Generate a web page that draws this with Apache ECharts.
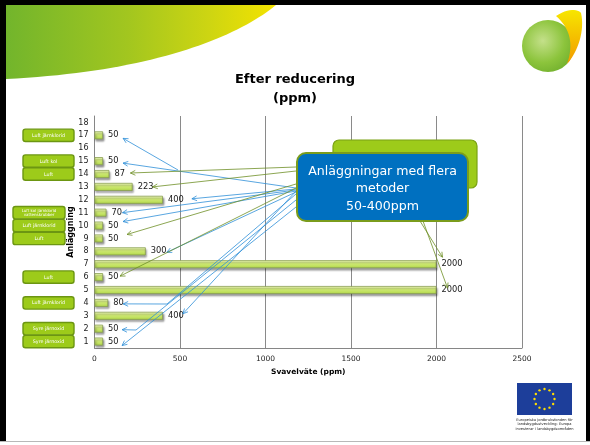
<!DOCTYPE html>
<html>
<head>
<meta charset="utf-8">
<script src="https://cdn.jsdelivr.net/npm/echarts@6/dist/echarts.min.js"></script>
<style>
  html, body { margin: 0; padding: 0; background: #fff; }
  #chart { width: 590px; height: 445px; }
</style>
</head>
<body>
<div id="chart"></div>
<script>
// Plant numbers on the category axis (bottom to top)
const plants = ['1','2','3','4','5','6','7','8','9','10','11','12','13','14','15','16','17','18'];
// Hydrogen sulphide after reduction, ppm (null = no value reported)
const ppm = [50, 50, 400, 80, 2000, 50, 2000, 300, 50, 50, 70, 400, 223, 87, 50, null, 50, null];

// Value axis range
const xMin = 0, xMax = 2500, xStep = 500;

// Treatment method tags shown beside the plant numbers
const methodPlants = ['17', '15', '14', '11', '10', '9', '6', '4', '2', '1'];
const methodNames = ['Luft järnklorid', 'Luft kol', 'Luft', 'Luft kol järnklorid\nvattenskrubber',
                     'Luft järnklorid', 'Luft', 'Luft', 'Luft järnklorid', 'Syre järnoxid', 'Syre järnoxid'];

// Callout text and the plants its arrows point at
const calloutText = 'Anläggningar med flera\nmetoder\n50-400ppm';
const bluePointerPlants = ['17', '15', '12', '11', '10', '8', '4', '3', '2', '1'];
const greenPointerPlants = ['14', '13', '9', '6', '7', '5'];

const euText = ['Europeiska jordbruksfonden för', 'landsbygdsutveckling: Europa', 'investerar i landsbygdsområden'];

const FONT = 'DejaVu Sans';

// Per-arrow drawing layout: start point and offset of the tip from the bar end
const arrowLayout = {
  '17': { from: [178, 170], dx: 20, dy: 3 },
  '15': { from: [296, 188], dx: 20, dy: 2 },
  '12': { from: [296, 189], dx: 29, dy: -1 },
  '11': { from: [296, 190], dx: 16, dy: 0 },
  '10': { from: [296, 191], dx: 20, dy: -4 },
  '8':  { from: [296, 192], dx: 21, dy: 1 },
  '4':  { from: [167, 304], dx: 15, dy: 1, feed: [296, 194] },
  '3':  { from: [297, 190], dx: 20, dy: -2 },
  '2':  { from: [136, 330], dx: 19, dy: 1, feed: [296, 200] },
  '1':  { from: [296, 207], dx: 19, dy: 4 },
  '14': { from: [296, 167], dx: 21, dy: -1 },
  '13': { from: [296, 171], dx: 20, dy: 0 },
  '9':  { from: [296, 184], dx: 24, dy: -4 },
  '6':  { from: [296, 188], dx: 17, dy: -1 },
  '7':  { from: [420, 221], dx: 6, dy: -7 },
  '5':  { from: [423, 221], dx: 11, dy: -2 }
};

const chart = echarts.init(document.getElementById('chart'), null, { renderer: 'canvas' });

const barFill = {
  type: 'linear', x: 0, y: 0, x2: 0, y2: 1,
  colorStops: [
    { offset: 0, color: '#f2fbc4' },
    { offset: 0.4, color: '#d6f07a' },
    { offset: 1, color: '#add346' }
  ]
};

chart.setOption({
  animation: false,
  backgroundColor: '#fff',
  title: {
    text: 'Efter reducering\n(ppm)',
    left: 'center',
    top: 65,
    textStyle: { fontFamily: FONT, fontWeight: 'bold', fontSize: 13, lineHeight: 19, color: '#000' }
  },
  grid: { left: 94.5, right: 68, top: 116, bottom: 97, containLabel: false },
  xAxis: {
    type: 'value',
    min: xMin, max: xMax, interval: xStep,
    name: 'Svavelväte (ppm)',
    nameLocation: 'middle',
    nameGap: 20,
    nameTextStyle: { fontFamily: FONT, fontWeight: 'bold', fontSize: 7.5, color: '#000' },
    axisLine: { show: true, lineStyle: { color: '#868686', width: 1 } },
    axisTick: { show: false },
    axisLabel: { fontFamily: FONT, fontSize: 7.5, color: '#222', margin: 7, formatter: v => String(v) },
    splitLine: { show: true, lineStyle: { color: '#8a8a8a', width: 1 } }
  },
  yAxis: {
    type: 'category',
    data: plants,
    name: 'Anläggning',
    nameLocation: 'middle',
    nameGap: 20,
    nameMoveOverlap: false,
    nameTextStyle: { fontFamily: FONT, fontWeight: 'bold', fontSize: 8, color: '#000' },
    axisLine: { show: true, lineStyle: { color: '#868686', width: 1 } },
    axisTick: { show: false },
    axisLabel: { fontFamily: FONT, fontSize: 8, color: '#222', margin: 6 },
    splitLine: { show: false }
  },
  series: [{
    type: 'bar',
    data: ppm,
    barWidth: 8,
    itemStyle: {
      color: barFill,
      borderColor: '#8a9f52',
      borderWidth: 0.8,
      shadowColor: 'rgba(0,0,0,0.4)',
      shadowBlur: 2,
      shadowOffsetX: 1,
      shadowOffsetY: 2
    },
    label: {
      show: true,
      position: 'right',
      distance: 5,
      fontFamily: FONT,
      fontSize: 8.3,
      color: '#1a1a1a',
      formatter: p => (p.value == null ? '' : String(p.value))
    }
  }]
});

// ---- decorations and annotations placed from the chart's own scales ----
const px = (v, cat) => chart.convertToPixel({ gridIndex: 0 }, [v, cat]);
const valueOf = cat => ppm[plants.indexOf(cat)];

// sample a cubic Bézier into points
function cubic(p0, p1, p2, p3, n) {
  const pts = [];
  for (let i = 0; i <= n; i++) {
    const t = i / n, u = 1 - t;
    pts.push([
      u * u * u * p0[0] + 3 * u * u * t * p1[0] + 3 * u * t * t * p2[0] + t * t * t * p3[0],
      u * u * u * p0[1] + 3 * u * u * t * p1[1] + 3 * u * t * t * p2[1] + t * t * t * p3[1]
    ]);
  }
  return pts;
}

const gfx = [];

// slide frame
gfx.push({ type: 'rect', z: 1, shape: { x: 0, y: 0, width: 590, height: 5 }, style: { fill: '#000' } });
gfx.push({ type: 'rect', z: 1, shape: { x: 0, y: 0, width: 6, height: 441 }, style: { fill: '#000' } });
gfx.push({ type: 'rect', z: 1, shape: { x: 586, y: 0, width: 4, height: 441 }, style: { fill: '#000' } });
gfx.push({ type: 'line', z: 1, shape: { x1: 0, y1: 441.5, x2: 590, y2: 441.5 }, style: { stroke: '#b8b8b8', lineWidth: 1 } });

// header swoosh
const swoosh = [[6, 5], [276, 5]].concat(cubic([276, 5], [236, 38], [150, 72], [6, 79], 40));
gfx.push({
  type: 'polygon', z: 1,
  shape: { points: swoosh },
  style: {
    fill: {
      type: 'linear', x: 0, y: 0, x2: 1, y2: 0,
      colorStops: [
        { offset: 0, color: '#72b52c' },
        { offset: 0.45, color: '#a2c61f' },
        { offset: 0.75, color: '#cdd512' },
        { offset: 1, color: '#f4e300' }
      ]
    }
  }
});

// round logo, top right
gfx.push({
  type: 'circle', z: 1,
  shape: { cx: 548, cy: 46, r: 26 },
  style: {
    fill: {
      type: 'radial', x: 0.4, y: 0.4, r: 0.7,
      colorStops: [{ offset: 0, color: '#c4e08a' }, { offset: 0.6, color: '#8cc43c' }, { offset: 1, color: '#6fae2c' }]
    }
  }
});
const flame = cubic([556, 16], [568, 8], [578, 9], [581, 13], 12)
  .concat(cubic([581, 13], [585, 30], [578, 52], [567, 64], 16))
  .concat(cubic([567, 64], [574, 44], [570, 28], [556, 16], 16));
gfx.push({
  type: 'polygon', z: 2,
  shape: { points: flame },
  style: {
    fill: {
      type: 'linear', x: 0, y: 0, x2: 0, y2: 1,
      colorStops: [{ offset: 0, color: '#f7e600' }, { offset: 1, color: '#f29a00' }]
    }
  }
});

// EU emblem, bottom right
gfx.push({ type: 'rect', z: 1, shape: { x: 517, y: 383, width: 55, height: 32 }, style: { fill: '#1d3e9a' } });
for (let i = 0; i < 12; i++) {
  const a = (i / 12) * Math.PI * 2;
  gfx.push({ type: 'circle', z: 2, shape: { cx: 544.5 + 10 * Math.sin(a), cy: 399 - 10 * Math.cos(a), r: 1.2 }, style: { fill: '#ffdd00' } });
}
euText.forEach((t, i) => {
  gfx.push({
    type: 'text', z: 2,
    style: { text: t, x: 544.5, y: 420 + i * 4.5, fill: '#222', fontFamily: FONT, fontSize: 3.6, align: 'center', verticalAlign: 'middle' }
  });
});

// method tags
methodPlants.forEach((cat, i) => {
  const y = px(0, cat)[1];
  const wideSet = ['11', '10', '9'];
  const x0 = wideSet.includes(cat) ? 13 : 23;
  const w = wideSet.includes(cat) ? 52 : 51;
  gfx.push({
    type: 'rect', z: 20,
    shape: { x: x0, y: y - 6.2, width: w, height: 12.4, r: 2.5 },
    style: { fill: '#9dcb1a', stroke: '#6c9612', lineWidth: 1.4 }
  });
  const twoLines = methodNames[i].indexOf('\n') >= 0;
  gfx.push({
    type: 'text', z: 21,
    style: {
      text: methodNames[i], x: x0 + w / 2, y: y + 0.3,
      fill: '#fff', fontFamily: FONT, fontSize: twoLines ? 4 : 4.8,
      lineHeight: twoLines ? 4.6 : 6,
      align: 'center', verticalAlign: 'middle'
    }
  });
});

// arrows
function arrow(from, to, color) {
  gfx.push({
    type: 'line', z: 30,
    shape: { x1: from[0], y1: from[1], x2: to[0], y2: to[1] },
    style: { stroke: color, lineWidth: 0.8 }
  });
  const ang = Math.atan2(from[1] - to[1], from[0] - to[0]);
  const L = 5.5, spread = 0.45;
  gfx.push({
    type: 'polyline', z: 30,
    shape: {
      points: [
        [to[0] + L * Math.cos(ang + spread), to[1] + L * Math.sin(ang + spread)],
        [to[0], to[1]],
        [to[0] + L * Math.cos(ang - spread), to[1] + L * Math.sin(ang - spread)]
      ]
    },
    style: { stroke: color, lineWidth: 0.8, fill: null }
  });
}
function addPointers(list, color) {
  list.forEach(cat => {
    const lay = arrowLayout[cat];
    const end = px(valueOf(cat), cat);
    const tip = [end[0] + lay.dx, end[1] + lay.dy];
    if (lay.feed) {
      gfx.push({
        type: 'line', z: 30,
        shape: { x1: lay.feed[0], y1: lay.feed[1], x2: lay.from[0], y2: lay.from[1] },
        style: { stroke: color, lineWidth: 0.8 }
      });
    }
    arrow(lay.from, tip, color);
  });
}
addPointers(bluePointerPlants, '#2f8fd8');
addPointers(greenPointerPlants, '#6f8f26');

// green note partly hidden behind the callout
gfx.push({
  type: 'rect', z: 40,
  shape: { x: 333, y: 140, width: 144, height: 48, r: 6 },
  style: { fill: '#9dcb1a', stroke: '#7aa214', lineWidth: 1.2 }
});

// blue callout
gfx.push({
  type: 'rect', z: 41,
  shape: { x: 297, y: 153, width: 171, height: 68, r: 9 },
  style: { fill: '#0070c0', stroke: '#7a9c1c', lineWidth: 2 }
});
gfx.push({
  type: 'text', z: 42,
  style: {
    text: calloutText, x: 382.5, y: 189,
    fill: '#fff', fontFamily: FONT, fontSize: 12.6, lineHeight: 17.5,
    align: 'center', verticalAlign: 'middle'
  }
});

chart.setOption({ graphic: gfx });
</script>
</body>
</html>
